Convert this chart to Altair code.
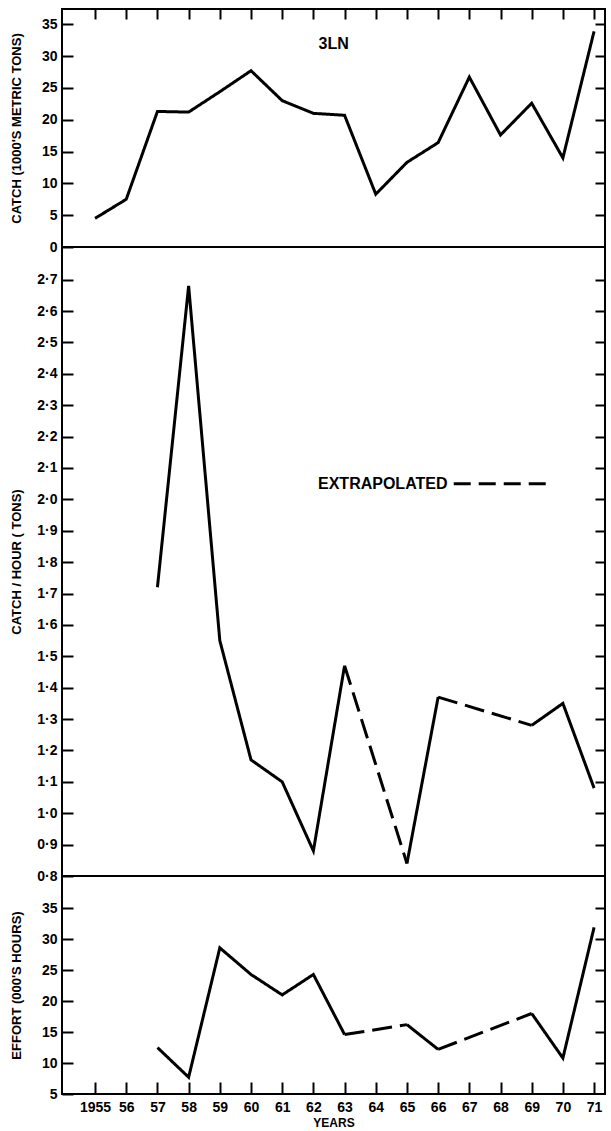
import altair as alt
import pandas as pd

# ---- data -------------------------------------------------------------
years = list(range(1955, 1972))

# catch, 1000's of metric tons
catch = [4.5, 7.5, 21.3, 21.2, 24.4, 27.7, 23.0, 21.0, 20.7,
         8.3, 13.3, 16.4, 26.7, 17.6, 22.6, 14.0, 33.9]

# catch per hour, tons (None: no estimate; joined by an extrapolated dashed line)
cph = [None, None, 1.72, 2.68, 1.55, 1.17, 1.10, 0.88, 1.47,
       None, 0.84, 1.37, None, None, 1.28, 1.35, 1.08]

# effort, 1000's of hours
effort = [None, None, 12.5, 7.7, 28.6, 24.3, 21.0, 24.3, 14.6,
          None, 16.2, 12.2, None, None, 18.0, 10.8, 31.9]

catch_ticks = [0, 5, 10, 15, 20, 25, 30, 35]
cph_ticks = [0.8, 0.9, 1.0, 1.1, 1.2, 1.3, 1.4, 1.5, 1.6, 1.7, 1.8, 1.9,
             2.0, 2.1, 2.2, 2.3, 2.4, 2.5, 2.6, 2.7]
effort_ticks = [5, 10, 15, 20, 25, 30, 35]

panel_label = "3LN"
panel_label_pos = (1962.65, 31.9)
key_label = "EXTRAPOLATED"
key_label_pos = (1966.3, 2.05)
key_line_years = (1966.5, 1969.5)

# ---- layout -----------------------------------------------------------
X_DOMAIN = [1953.94, 1971.35]
W = 543
H_TOP, H_MID, H_BOT = 238, 629, 218
FONT = "Liberation Sans, Arial, sans-serif"
SOLID = [1, 0]
DASH = [20, 8]


def segments(values):
    """Split a series into solid runs (consecutive years) and dashed
    links across years without an estimate."""
    pts = [(y, v) for y, v in zip(years, values) if v is not None]
    rows, seg, prev = [], 0, None
    for (y0, v0), (y1, v1) in zip(pts[:-1], pts[1:]):
        style = "solid" if y1 - y0 == 1 else "dashed"
        if style != prev:
            seg += 1
            rows.append(dict(year=y0, value=v0, seg=seg, style=style))
            prev = style
        rows.append(dict(year=y1, value=v1, seg=seg, style=style))
    return pd.DataFrame(rows)


def xscale():
    return alt.Scale(domain=X_DOMAIN, nice=False, zero=False)


def left_axis(values, title, label_expr, title_x):
    return alt.Axis(orient="left", values=values, title=title,
                    offset=-11, tickSize=11, tickWidth=2, tickColor="black",
                    domain=False, grid=False,
                    labelFont=FONT, labelFontSize=14, labelFontWeight="bold",
                    labelColor="black", labelPadding=5, labelExpr=label_expr,
                    labelOverlap=False, labelFlush=False,
                    titleFont=FONT, titleFontSize=13, titleFontWeight="bold",
                    titleColor="black", titleX=title_x, titleAngle=270,
                    titleBaseline="middle", titleAlign="center")


def right_axis(values):
    return alt.Axis(orient="right", values=values, title=None,
                    offset=-10, tickSize=10, tickWidth=2, tickColor="black",
                    domain=False, grid=False, labels=False)


def panel(values, domain, ticks, title, label_expr, x_axis, top_axis):
    df = segments(values)
    yscale = alt.Scale(domain=domain, nice=False, zero=False)
    main = alt.Chart(df).mark_line(color="black", strokeWidth=3).encode(
        x=alt.X("year:Q", scale=xscale(), axis=x_axis),
        y=alt.Y("value:Q", scale=yscale,
                axis=left_axis(ticks, title, label_expr, -57)),
        detail="seg:N",
        strokeDash=alt.StrokeDash("style:N", legend=None,
                                  scale=alt.Scale(domain=["solid", "dashed"],
                                                  range=[SOLID, DASH])),
    )
    ghost = alt.Chart(df).mark_line(strokeOpacity=0).encode(
        x=alt.X("year:Q", scale=xscale(), axis=top_axis),
        y=alt.Y("value:Q", scale=yscale, axis=right_axis(ticks[1:])),
        detail="seg:N",
    )
    return main, ghost, yscale


year_label = "datum.value == 1955 ? '1955' : substring(format(datum.value, 'd'), 2, 4)"
dot_label = "replace(format(datum.value, '.1f'), '.', '·')"

top_x = alt.Axis(orient="top", values=years, title=None, offset=-10,
                 tickSize=10, tickWidth=2, tickColor="black",
                 domain=False, grid=False, labels=False)
bottom_x = alt.Axis(orient="bottom", values=years, title="YEARS", offset=-12,
                    tickSize=12, tickWidth=2, tickColor="black",
                    domain=False, grid=False,
                    labelFont=FONT, labelFontSize=14, labelFontWeight="bold",
                    labelColor="black", labelPadding=6, labelExpr=year_label,
                    labelOverlap=False, labelFlush=False,
                    titleFont=FONT, titleFontSize=12, titleFontWeight="bold",
                    titleColor="black", titlePadding=3)

# top panel: catch
m1, g1, ys1 = panel(catch, [0, 37.4], catch_ticks,
                    "CATCH (1000'S METRIC TONS)", "format(datum.value, 'd')",
                    None, top_x)
lab1 = alt.Chart(pd.DataFrame({"year": [panel_label_pos[0]],
                               "value": [panel_label_pos[1]],
                               "text": [panel_label]})).mark_text(
    font=FONT, fontSize=16, fontWeight="bold", color="black",
    align="center", baseline="middle").encode(
    x=alt.X("year:Q", scale=xscale(), axis=None),
    y=alt.Y("value:Q", scale=ys1, axis=None), text="text:N")
top = alt.layer(m1, g1, lab1).resolve_axis(x="independent", y="independent") \
    .properties(width=W, height=H_TOP)

# middle panel: catch per hour
m2, g2, ys2 = panel(cph, [0.8, 2.804], cph_ticks,
                    "CATCH / HOUR ( TONS)", dot_label, None, None)
key_text = alt.Chart(pd.DataFrame({"year": [key_label_pos[0]],
                                   "value": [key_label_pos[1]],
                                   "text": [key_label]})).mark_text(
    font=FONT, fontSize=16, fontWeight="bold", color="black",
    align="right", baseline="middle").encode(
    x=alt.X("year:Q", scale=xscale(), axis=None),
    y=alt.Y("value:Q", scale=ys2, axis=None), text="text:N")
key_line = alt.Chart(pd.DataFrame({"year": [key_line_years[0]],
                                   "year2": [key_line_years[1]],
                                   "value": [key_label_pos[1]]})).mark_rule(
    color="black", strokeWidth=3, strokeDash=[17, 8]).encode(
    x=alt.X("year:Q", scale=xscale(), axis=None), x2="year2:Q",
    y=alt.Y("value:Q", scale=ys2, axis=None))
middle = alt.layer(m2, g2, key_text, key_line) \
    .resolve_axis(x="independent", y="independent") \
    .properties(width=W, height=H_MID)

# bottom panel: effort
m3, g3, ys3 = panel(effort, [5, 40.2], effort_ticks,
                    "EFFORT (000'S HOURS)", "format(datum.value, 'd')",
                    bottom_x, None)
bottom = alt.layer(m3, g3).resolve_axis(x="independent", y="independent") \
    .properties(width=W, height=H_BOT)

chart = alt.vconcat(top, middle, bottom, spacing=0, bounds="flush") \
    .resolve_scale(x="independent", y="independent") \
    .properties(padding={"left": 9, "top": 7, "right": 0, "bottom": 0},
                background="white") \
    .configure_view(stroke="black", strokeWidth=2)

chart.save("out.html", embed_options={"renderer": "svg", "actions": False})
